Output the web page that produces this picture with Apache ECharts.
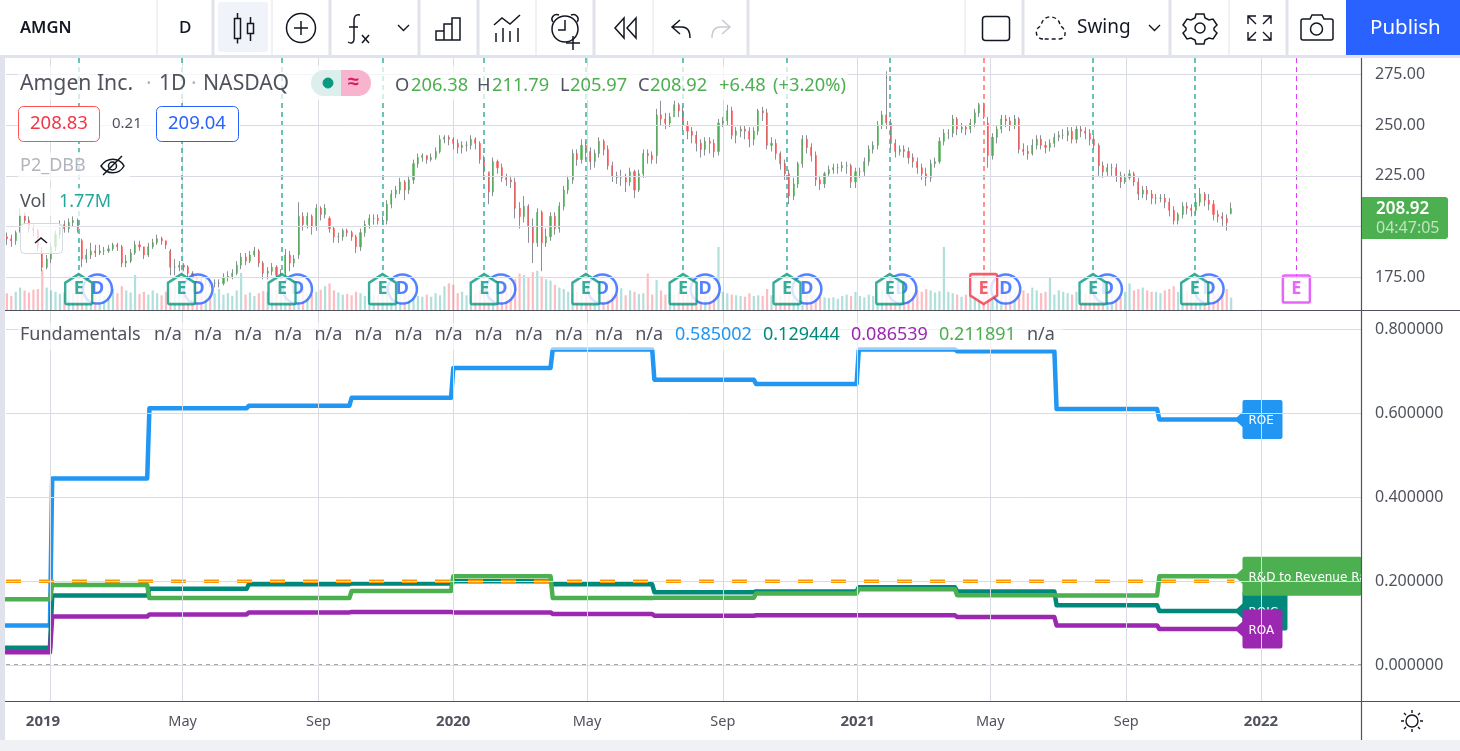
<!DOCTYPE html>
<html><head><meta charset="utf-8">
<style>html,body{margin:0;padding:0;background:#fff}#c{width:1460px;height:751px}</style>
<script src="https://cdn.jsdelivr.net/npm/echarts@6/dist/echarts.min.js"></script>
</head><body><div id="c"></div>
<script>
// Candles are sampled every 4 calendar days; days are counted from 2019-01-01.
const firstDay = -39, stepDays = 4;
const opens = [
195,194,193,198,206,203,199,198,187,180,
184,190,196,201,199,202,203,193,184,186,
188,187,188,188,189,191,190,182,183,187,
191,190,186,190,192,194,193,188,180,180,
181,180,177,175,174,173,173,172,172,172,
175,175.5,177,181,185,183,186,188,182,177,
178,180,176,177,186,182,186,205,201,205,
200,209,206,204,199,195,195,198,197,195,
190,197,201,204,204,203,203,211,216,218,
222,218,223,231,234,235,233,234,237,243,
244,243,241,239,240,240,243,241,233,227,
217,232,229,224,223,222,209,205,210,200,
192,207,192,195,205,199,210,218,223,236,
233,240,237,232,236,242,238,230,225,224,
224,222,227,218,226,236,235,235,255,253,
251,254,260,257,250,247,245,241,238,242,
241,237,251,252,257,245,247,248,247,243,
247,257,256,240,241,236,231,226,215,221,
231,243,239,235,223,221,226,228,229,229,
230,230,222,227,227,232,238,240,250,255,
251,241,237,238,237,234,232,229,226,224,
231,232,242,246,246,253,248,249,248,251,
256,260,251,235,244,248,253,252,250,253,
238,237,236,240,243,240,239,241,244,245,
245,247,243,248,247,246,243,240,230,227,
229,229,225,222,224,226,222,216,218,216,
214,214,214,212,208,203,206,210,209,208,
212,216,213,211,206,205,204,206.38];
const closes = [
194,193,197,206,203,199,198,190,180,184,
190,196,201,199,202,203,199,184,186,188,
187,188,188,189,191,190,182,183,187,191,
190,186,190,192,194,193,191,180,180,181,
180,177,175,174,173,173,172,172,172,175,
175.5,177,181,185,183,186,188,182,177,178,
180,176,176,186,182,184,205,201,205,200,
209,206,209,199,195,195,198,197,195,190,
197,201,204,204,203,203,211,216,218,222,
218,223,231,234,235,233,234,237,243,244,
243,241,239,240,240,243,241,233,227,217,
232,229,224,223,222,209,205,210,200,192,
207,192,195,205,199,210,218,223,236,233,
240,237,232,236,242,238,230,225,224,224,
222,227,218,226,236,235,233,255,253,251,
254,260,257,250,247,245,241,238,242,241,
237,251,252,257,245,247,248,247,243,247,
257,256,240,241,236,231,226,215,221,231,
243,239,235,223,221,226,228,229,229,230,
230,222,227,227,232,238,240,250,255,251,
241,237,238,237,234,232,229,226,224,231,
232,242,246,246,253,248,249,248,251,256,
260,256,235,244,248,253,252,250,253,238,
237,236,240,243,240,239,241,244,245,245,
247,243,248,247,246,243,240,230,227,229,
229,225,222,224,226,222,216,218,216,214,
214,214,212,208,203,206,210,209,208,212,
216,213,211,206,205,204,202,208.92];
const lows = [
191,190,191,197,201,197,195,188,178,179,
182,188,194,197,197,200,197,180,182,184,
185,186,186,187,188,188,180,180,182,186,
188,184,185,189,191,191,189,176,176,178,
178,175,174,172,171,171,170,170,170,171,
173,174,176,179,181,182,185,180,174,174,
176,173,174,175,178,180,184,198,199,196,
198,203,204,197,192,192,193,195,193,187,
188,195,199,201,201,201,201,209,214,216,
213,216,221,229,232,231,232,233,236,241,
240,238,236,236,237,238,238,231,223,211,
215,226,222,220,219,204,199,202,192,182,
190,178,190,193,196,197,208,216,221,230,
231,233,228,229,234,235,228,222,221,220,
217,220,214,217,224,231,231,231,250,248,
249,257,254,247,243,241,237,234,235,236,
234,235,249,250,243,241,244,243,239,240,
245,252,238,237,233,228,223,211,213,219,
229,236,232,220,218,219,225,226,226,227,
226,219,219,224,225,230,236,238,248,248,
238,234,235,234,231,229,226,223,220,222,
229,231,240,243,244,245,246,245,246,249,
254,253,229,233,241,246,249,247,248,236,
235,233,235,238,238,236,237,239,242,243,
242,241,241,244,243,240,238,225,224,225,
225,222,219,221,223,220,213,214,213,211,
211,212,209,205,201,201,204,206,205,206,
210,210,208,203,202,200,198,205.97];
const highs = [
197,196,198,209,207,205,201,199,190,186,
192,198,203,203,204,205,204,194,189,192,
191,191,190,191,192,192,191,186,189,193,
193,190,192,194,196,195,193,189,184,183,
182,181,178,176,175,175,174,174,174,177,
178,179,183,187,187,188,190,189,183,180,
182,181,179,189,188,186,212,207,207,206,
211,210,211,205,200,197,199,199,198,196,
199,203,206,206,206,205,213,218,220,224,
223,225,233,236,236,235,236,239,245,245,
245,244,243,242,242,245,244,242,235,226,
234,233,231,226,225,224,212,215,211,204,
209,208,199,207,207,212,220,225,238,238,
243,242,239,238,244,243,240,232,227,228,
226,229,228,228,238,238,237,258,262,256,
256,262,261,259,252,249,247,243,244,244,
243,253,254,260,259,249,250,250,249,249,
258,259,258,244,243,237,233,228,224,232,
245,245,241,237,225,227,230,231,231,232,
232,231,229,229,234,240,242,252,257,276.5,
253,243,240,240,239,236,234,231,229,233,
234,244,248,248,255,254,251,250,253,258,
261,261,254,246,250,255,255,254,255,254,
241,240,243,245,245,242,243,246,247,248,
249,249,250,250,249,248,245,241,232,231,
231,231,227,226,228,227,224,220,220,218,
216,216,216,214,210,207,212,212,211,214,
219,217,216,213,208,207,206,211.79];
const volumes = [
2.4,2.0,2.6,3.2,2.8,2.5,2.9,3.0,5.7,3.2,
2.8,2.6,2.3,2.5,2.8,2.4,3.0,4.4,3.2,2.6,
2.2,2.5,2.0,2.7,3.0,2.4,3.4,2.8,2.5,5.0,
2.3,2.6,2.2,2.8,2.4,2.1,2.6,3.4,3.6,2.9,
2.7,3.1,2.8,3.3,2.9,2.5,2.6,2.4,3.0,2.2,
2.4,2.0,2.8,5.3,2.2,2.5,2.0,2.4,2.7,2.6,
2.4,2.9,3.0,3.4,2.7,3.0,5.0,3.2,2.4,2.2,
2.6,2.9,3.4,3.8,2.8,2.5,2.2,2.3,2.1,2.6,
2.4,2.0,2.7,2.2,2.1,2.4,3.2,2.8,2.6,2.2,
2.4,2.1,2.5,2.0,1.9,2.2,1.9,2.4,2.1,3.4,
3.8,3.6,2.4,2.6,2.1,1.9,2.3,2.8,3.2,3.5,
3.0,2.6,2.8,3.4,4.0,4.4,5.2,5.0,4.6,5.4,
5.6,4.8,4.4,4.2,3.6,3.2,3.0,2.6,2.4,2.6,
2.2,2.4,2.0,2.6,2.1,2.4,2.2,2.4,2.2,3.1,
2.1,2.8,2.6,2.3,2.4,5.2,2.2,4.3,2.8,2.2,
2.4,2.1,2.6,2.3,3.0,2.2,2.4,2.1,2.3,2.0,
2.2,9.0,2.6,2.4,2.2,2.1,2.0,1.9,2.4,2.0,
2.1,2.0,3.0,2.1,1.8,2.0,2.2,3.6,3.0,3.2,
2.4,2.2,2.2,2.1,1.9,1.8,1.7,1.8,1.6,2.0,
2.2,2.0,2.6,2.0,1.8,2.2,2.0,2.4,2.8,3.0,
2.6,2.2,2.0,2.1,2.2,2.5,2.8,2.6,3.0,2.8,
2.5,2.7,9.0,2.6,2.4,2.2,1.9,2.2,2.0,1.8,
2.1,2.4,3.6,2.4,3.0,2.6,3.4,2.8,2.6,3.0,
2.8,2.4,3.2,2.8,2.4,2.6,4.6,2.2,2.8,2.6,
2.4,2.2,2.6,2.7,2.4,2.3,2.6,2.8,3.2,3.0,
2.4,2.0,1.8,2.6,3.8,2.8,3.0,3.2,2.8,2.6,
2.6,2.4,2.8,3.0,3.4,2.6,2.4,2.8,2.2,2.4,
3.0,3.4,2.8,2.6,2.4,2.7,3.0,1.77];

// Earnings and dividend events (days since 2019-01-01)
const earningsDays   = [26,119,210,301,393,485,573,667,760,845,944,1036,1128];
const earningsStatus = ['beat','beat','beat','beat','beat','beat','beat','beat','beat','miss','beat','beat','next'];
const dividendDays   = [43,134,224,319,408,500,593,685,771,865,957,1049];
const markerPrice = 169.2;

// Fundamentals: quarterly step levels
const quarterDays = [-40,0,88,178,271,363,453,545,637,730,819,909,1002,1072];
const roe  = [.095,.445,.612,.618,.637,.708,.752,.68,.67,.752,.748,.61,.585,.585002];
const roic = [.042,.166,.182,.193,.195,.2,.193,.174,.176,.186,.176,.143,.1294,.129444];
const rnd  = [.157,.191,.16,.16,.177,.212,.16,.161,.171,.181,.167,.166,.2119,.211891];
const roa  = [.031,.116,.121,.126,.127,.126,.122,.118,.119,.119,.115,.095,.0865,.086539];
const orangeLevel = 0.2, zeroLevel = 0;

// Axis ticks
const timeTicks  = [0,120,243,365,486,609,731,851,974,1096];
const timeLabels = ['2019','May','Sep','2020','May','Sep','2021','May','Sep','2022'];
const priceTicks = [175,200,225,250,275];
const ratioTicks = [0,0.2,0.4,0.6,0.8];
const naCount = 13;

const UP='#4CAF50',DOWN='#FF5252',WICK='#787B86',GRID='#D9DBE3',AX='#50535E',TXT='#50535E',LAV='#E0E3EB';
const FONT='"Noto Sans",sans-serif';
const xMin=-39.8,xMax=1186.5;

const days = closes.map((_,i)=>firstDay+i*stepDays);
const wickData = days.map((d,i)=>[d,lows[i],highs[i],lows[i],highs[i]]);
const bodyData = days.map((d,i)=>[d,opens[i],closes[i],Math.min(opens[i],closes[i]),Math.max(opens[i],closes[i])]);
const volData = days.map((d,i)=>({value:[d,volumes[i]],itemStyle:{color:closes[i]>=opens[i]?'rgba(38,166,154,.36)':'rgba(247,82,95,.38)'}}));
// each quarter's level holds until the next report, with a short riser
const riserDays = 2;
const stepData = a => quarterDays.flatMap((d,i)=>i===0?[[d,a[0]]]:[[d,a[i-1]],[d+riserDays,a[i]]]);

const evtColor={beat:'#089981',miss:'#F23645',next:'#E040FB'};
const evtDash={beat:'#3DAE9C',miss:'#FF6F6F',next:'#E040FB'};
const upTag='path://M14 0 L28 9 L28 29 Q28 31 26 31 L2 31 Q0 31 0 29 L0 9 Z';
const downTag='path://M2 0 L26 0 Q28 0 28 2 L28 22 L14 31 L0 22 L0 2 Q0 0 2 0 Z';
const sqTag='path://M2 0 L26 0 Q28 0 28 2 L28 26 Q28 28 26 28 L2 28 Q0 28 0 26 L0 2 Q0 0 2 0 Z';
const tagFor={beat:upTag,miss:downTag,next:sqTag};

function flagPath(w){return `path://M0 19.5 L8 12 L8 2 Q8 0 10 0 L${w-2} 0 Q${w} 0 ${w} 2 L${w} 37 Q${w} 39 ${w-2} 39 L10 39 Q8 39 8 37 L8 27 Z`;}
function stepSeries(name,a,color,z,w){
  return {name,type:'line',xAxisIndex:1,yAxisIndex:2,showSymbol:false,symbol:'none',z,silent:true,clip:false,
    data:stepData(a),lineStyle:{color,width:4.5,cap:'round',join:'round'},
    markPoint:{silent:true,z,data:[{coord:[quarterDays[quarterDays.length-1],a[a.length-1]],symbol:flagPath(w),symbolSize:[w,39],symbolOffset:[w/2,0],
      itemStyle:{color},label:{show:true,formatter:name,color:'#fff',fontFamily:'"DejaVu Sans",sans-serif',fontSize:12,position:[14,21],align:'left',verticalAlign:'middle'}}]}};
}
function levelSeries(name,level,endDay,z,lineStyle){
  return {name,type:'line',xAxisIndex:1,yAxisIndex:2,z,silent:true,showSymbol:false,symbol:'none',data:[[xMin,level],[endDay,level]],lineStyle};
}

let iconId=0;
const T=(text,x,y,fontSize,fill,extra)=>({type:'text',silent:true,z:34,style:Object.assign({text,x,y,fontSize,fill,fontFamily:FONT,verticalAlign:'middle'},extra||{})});
const R=(x,y,w,h,fill,extra,r)=>({type:'rect',silent:true,z:30,shape:{x,y,width:w,height:h,r:r||0},style:Object.assign({fill},extra||{})});
const L=(x1,y1,x2,y2,stroke,lw,z)=>({type:'line',silent:true,z:z||31,shape:{x1,y1,x2,y2},style:{stroke,lineWidth:lw||1}});
const P=(d,stroke,lw,extra)=>{const name='tvIcon'+(iconId++);echarts.graphic.registerShape(name,echarts.graphic.extendPath(d,{}));
  return {type:name,silent:true,z:33,style:Object.assign({stroke:stroke||'#131722',lineWidth:lw||1.5,fill:'none'},extra||{})};};
const C=(cx,cy,r,stroke,lw,fill)=>({type:'circle',silent:true,z:33,shape:{cx,cy,r},style:{stroke,lineWidth:lw||1.5,fill:fill||'none'}});

const gfx=[
 {type:'rect',silent:true,z:10,shape:{x:1362,y:311,width:98,height:390},style:{fill:'#fff'}},
 R(0,0,1460,55,'#fff'),R(0,55,1460,3,LAV),R(0,58,5,693,LAV),R(0,740,1460,11,'#F0F1F5'),
 L(5,310.5,1460,310.5,AX,1.2),L(5,701.5,1460,701.5,AX,1.2),L(1361.5,58,1361.5,740,AX,1.2),
 ...[[157,1],[213,3],[272,1],[330,3],[419,3],[478,3],[536,1],[594,3],[653,1],[748,3],[965,1],[1023,3],[1170,3],[1229,1],[1287,3]].map(a=>L(a[0],0,a[0],55,LAV,a[1])),
 R(218,2,50,50,'#F0F3FA',null,3),
 T('AMGN',20,28,16.5,'#131722',{fontWeight:600}),
 T('D',179,28,17,'#131722',{fontWeight:500}),
 P('M234.5 18.5h6v20h-6zM237.5 13v5.5M237.5 38.5v5M247.5 23.5h6v10h-6zM250.5 17v6.5M250.5 33.5v7.5'),
 C(301,28,14.5,'#131722',1.5),P('M301 21v14M294 28h14'),
 P('M360 15c-5-1-6 2-6 6v18c0 4-3 5-6 3M349 27h9M362 35l7 8M369 35l-7 8'),
 P('M398 25l5.5 5.5l5.5-5.5',null,1.4),
 P('M436 31h8v9h-8zM444 24h8v16h-8zM452 18h8v22h-8z'),
 P('M494 25l8-7l8 6l10-9M496 42v-9M503 42v-14M510 42v-11M518 42v-14'),
 C(565,29,13,'#131722',1.5),P('M565 20v10h-7M553 22c-3-4 1-9 6-7M577 22c3-4-1-9-6-7',null,1.5),
 P('M566 43h14M573 36v14',null,1.5),
 P('M624 18l-9 10l9 10zM636 18l-9 10l9 10z'),
 P('M680 20l-8 7l8 7M672 27h10c5 0 8 3 8 11',null,1.5),
 P('M722 20l8 7l-8 7M730 27h-10c-5 0-8 3-8 11','#C9CBD3',1.5),
 {type:'rect',silent:true,z:33,shape:{x:982.5,y:16.5,width:27,height:24,r:3},style:{stroke:'#131722',lineWidth:1.5,fill:'none'}},
 P('M1043 39c-8 0-9-11-2-13c1-7 6-10 11-9c5 1 8 4 8 9c6 2 8 13-1 13z','#131722',1.4,{lineDash:[4,3]}),
 T('Swing',1077,28,19,'#131722'),
 P('M1149 25l5.5 5.5l5.5-5.5',null,1.4),
 C(1200,28,5,'#131722',1.5),
 P('M1196 14h8l1 4l4 2l4-1l4 6l-3 3v2l3 3l-4 6l-4-1l-4 2l-1 4h-8l-1-4l-4-2l-4 1l-4-6l3-3v-2l-3-3l4-6l4 1l4-2z'),
 P('M1248 24v-8h8M1248 16l8 8M1271 24v-8h-8M1271 16l-8 8M1248 32v8h8M1248 40l8-8M1271 32v8h-8M1271 40l-8-8',null,1.4),
 P('M1303 19h7l2-4h10l2 4h7c1 0 2 1 2 2v17c0 1-1 2-2 2h-28c-1 0-2-1-2-2v-17c0-1 1-2 2-2z'),C(1316.5,29,6,'#131722',1.5),
 R(1346,0,114,55,'#2962FF'),
 T('Publish',1370,28,20.5,'#fff'),
 // price pane legend, on faded backplates
 R(18,66,830,34,'rgba(255,255,255,.72)'),R(18,106,222,36,'rgba(255,255,255,.72)'),R(18,152,112,28,'rgba(255,255,255,.72)'),R(18,188,95,28,'rgba(255,255,255,.72)'),
 T('Amgen Inc.',20,84,21.2,TXT),T('·',146,84,21,'#B2B5BE'),T('1D',159,84,21.2,TXT),T('·',191,84,21,'#B2B5BE'),T('NASDAQ',203,84,21.2,TXT),
 {type:'rect',silent:true,z:33,shape:{x:311,y:70,width:30,height:26,r:[13,0,0,13]},style:{fill:'#DCEFEC'}},
 {type:'rect',silent:true,z:33,shape:{x:341,y:70,width:30,height:26,r:[0,13,13,0]},style:{fill:'#F7B4CC'}},
 C(328,83,5,'#089981',1,'#089981'),
 T('≈',348,82,20,'#D81B60',{fontWeight:700}),
 ...[['O',395,TXT],['206.38',411,UP],['H',477,TXT],['211.79',492,UP],['L',560,TXT],['205.97',570,UP],['C',638,TXT],['208.92',650,UP],['+6.48',719,UP],['(+3.20%)',773,UP]].map(a=>T(a[0],a[1],86,18.3,a[2])),
 {type:'rect',silent:true,z:33,shape:{x:18.5,y:106.5,width:81,height:35,r:5},style:{fill:'#fff',stroke:'#FF5252',lineWidth:1}},
 T('208.83',30,124,18.5,'#F23645'),
 T('0.21',112,124,15,TXT),
 {type:'rect',silent:true,z:33,shape:{x:156.5,y:106.5,width:82,height:35,r:5},style:{fill:'#fff',stroke:'#2962FF',lineWidth:1}},
 T('209.04',168,124,18.5,'#2962FF'),
 T('P2_DBB',20,166,18,'#B2B5BE'),
 P('M101 166c6-9 18-9 23 0c-5 9-17 9-23 0zM103 175l19-19',null,1.5),C(112.5,166,4,'#131722',1.5),
 T('Vol',20,202,18,TXT),T('1.77M',59,202,18,'#26A69A'),
 {type:'rect',silent:true,z:33,shape:{x:20.5,y:223.5,width:42,height:30,r:4},style:{fill:'rgba(255,255,255,.72)',stroke:'#D6D8E0',lineWidth:1}},
 P('M35 243l6-5l6 5',null,1.5),
 // fundamentals legend
 R(18,323,1045,27,'rgba(255,255,255,.55)'),
 T('Fundamentals',20,335,18,TXT),
 ...Array.from({length:naCount},(_,i)=>T('n/a',154+i*40.1,335,18,TXT)),
 T('0.585002',675,335,18,'#2196F3'),T('0.129444',763,335,18,'#00897B'),T('0.086539',851,335,18,'#9C27B0'),T('0.211891',939,335,18,'#4CAF50'),T('n/a',1027,335,18,TXT),
 // last price flag
 {type:'rect',silent:true,z:33,shape:{x:1362,y:197,width:86,height:42,r:[0,3,3,0]},style:{fill:'#4CAF50'}},
 T('208.92',1376,209,17,'#fff',{fontWeight:600}),T('04:47:05',1376,228,16,'rgba(255,255,255,.65)'),
 C(1412,721,6,'#131722',1.4),P('M1412 710v3M1412 729v3M1401 721h3M1420 721h3M1404 713l2 2M1418 727l2 2M1404 729l2-2M1418 715l2-2',null,1.4)
];

const eventMarks = earningsDays.map((d,i)=>({silent:true,lineStyle:{color:evtDash[earningsStatus[i]],type:[5,4],width:earningsStatus[i]==='next'?1:1.5},coord:[d,283]}));

const option={
 animation:false,backgroundColor:'#fff',textStyle:{fontFamily:FONT},
 grid:[{left:6,top:58,width:1355,height:252},{left:6,top:311,width:1355,height:390}],
 xAxis:[
  {type:'value',gridIndex:0,min:xMin,max:xMax,axisLine:{show:false},axisLabel:{show:false},axisTick:{show:false,customValues:timeTicks},splitLine:{show:true,lineStyle:{color:GRID}}},
  {type:'value',gridIndex:1,min:xMin,max:xMax,axisLine:{show:false},axisTick:{show:false,customValues:timeTicks},splitLine:{show:true,lineStyle:{color:GRID}},z:20,
   axisLabel:{customValues:timeTicks,hideOverlap:false,showMinLabel:true,showMaxLabel:true,margin:13,fontSize:14.5,color:TXT,fontFamily:FONT,
    formatter:v=>{const s=timeLabels[timeTicks.indexOf(v)];return v===0?'{f|'+s+'}':s.length===4?'{b|'+s+'}':s;},
    rich:{b:{fontWeight:700,fontSize:15,color:TXT},f:{fontWeight:700,fontSize:15,color:TXT,padding:[0,14,0,0]}}}}
 ],
 yAxis:[
  {type:'value',gridIndex:0,position:'right',min:158.9,max:283.03,z:20,axisLine:{show:false},axisTick:{show:false,customValues:priceTicks},splitLine:{show:true,lineStyle:{color:GRID}},
   axisLabel:{customValues:priceTicks,margin:14,fontSize:16,color:TXT,fontFamily:FONT,padding:[4,0,0,0],formatter:v=>v.toFixed(2)}},
  {type:'value',gridIndex:0,show:false,min:0,max:36,splitLine:{show:false}},
  {type:'value',gridIndex:1,position:'right',min:-0.085,max:0.8436,z:20,axisLine:{show:false},axisTick:{show:false,customValues:ratioTicks},splitLine:{show:true,lineStyle:{color:GRID}},
   axisLabel:{customValues:ratioTicks,margin:14,fontSize:16,color:TXT,fontFamily:FONT,padding:[4,0,0,0],formatter:v=>v.toFixed(6)}}
 ],
 series:[
  {name:'Vol',type:'bar',xAxisIndex:0,yAxisIndex:1,data:volData,barWidth:2.2,z:1,silent:true},
  {name:'Earnings lines',type:'line',xAxisIndex:0,yAxisIndex:0,data:[],z:2,silent:true,
   markLine:{silent:true,symbol:'none',label:{show:false},animation:false,data:eventMarks.map(m=>[{coord:m.coord,lineStyle:m.lineStyle},{coord:[m.coord[0],markerPrice]}])}},
  {name:'Wicks',type:'candlestick',xAxisIndex:0,yAxisIndex:0,barWidth:1,z:3,silent:true,data:wickData,
   itemStyle:{color:WICK,color0:WICK,borderColor:WICK,borderColor0:WICK,borderWidth:1,opacity:.85}},
  {name:'AMGN',type:'candlestick',xAxisIndex:0,yAxisIndex:0,barWidth:1.6,z:4,silent:true,data:bodyData,
   itemStyle:{color:UP,color0:DOWN,borderColor:UP,borderColor0:DOWN,borderWidth:0.6,opacity:.85}},
  {name:'Dividends',type:'scatter',xAxisIndex:0,yAxisIndex:0,z:5,silent:true,symbol:'circle',symbolSize:29,clip:false,
   data:dividendDays.map(d=>[d,markerPrice]),itemStyle:{color:'#fff',borderColor:'#2962FF',borderWidth:2.5},
   label:{show:true,formatter:'D',color:'#2962FF',fontWeight:700,fontSize:18,position:'inside',fontFamily:FONT}},
  {name:'Earnings',type:'scatter',xAxisIndex:0,yAxisIndex:0,z:6,silent:true,clip:false,
   data:earningsDays.map((d,i)=>{const s=earningsStatus[i],c=evtColor[s];return {value:[d,markerPrice],symbol:tagFor[s],symbolSize:s==='next'?[27,27]:[27,30],
     itemStyle:{color:'#fff',borderColor:c,borderWidth:2.5},label:{show:true,formatter:'E',color:c,fontWeight:700,fontSize:18,position:'inside',fontFamily:FONT}};})},
  levelSeries('Zero',zeroLevel,xMax,2,{color:'#50535E',type:[4,4],width:1.4}),
  stepSeries('ROE',roe,'#2196F3',3,48),
  stepSeries('ROIC',roic,'#00897B',4,53),
  levelSeries('Reference 0.2',orangeLevel,quarterDays[quarterDays.length-1],4.5,{color:'#FF9800',type:[15,18],width:3.5}),
  stepSeries('R&D to Revenue Ratio',rnd,'#4CAF50',5,127),
  stepSeries('ROA',roa,'#9C27B0',6,48)
 ],
 graphic:{elements:gfx}
};
const chart=echarts.init(document.getElementById('c'),null,{renderer:'canvas'});
chart.setOption(option);
</script></body></html>
